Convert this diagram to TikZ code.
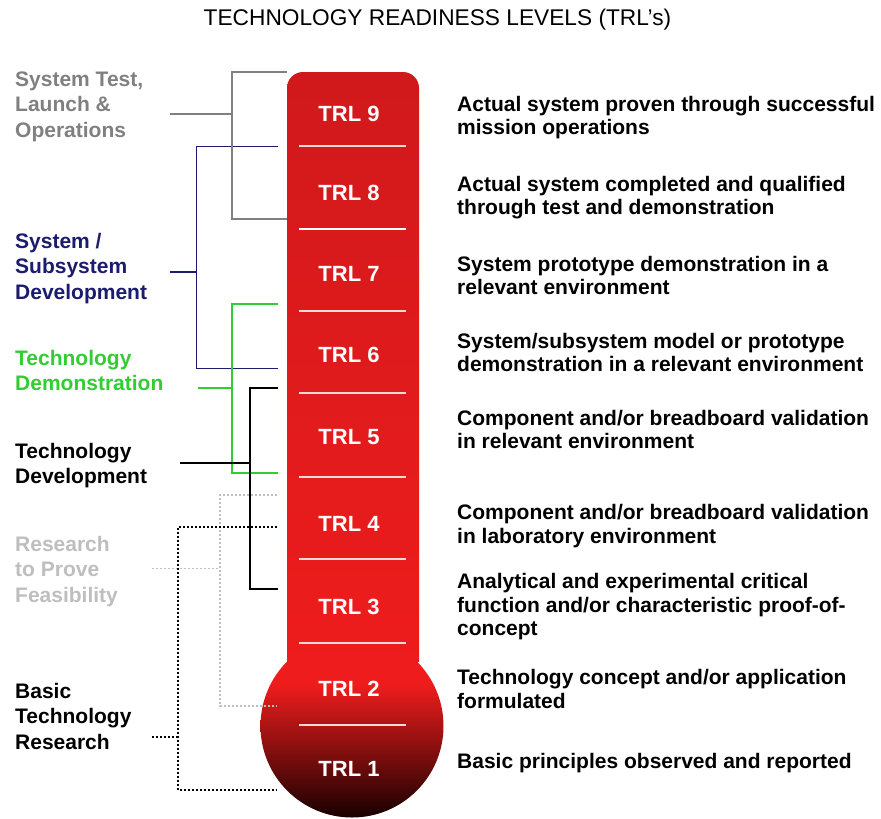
\documentclass[tikz,border=0pt]{standalone}
\usepackage{fontspec}
\setmainfont{Liberation Sans}
\definecolor{tubetop}{HTML}{D0191C}
\definecolor{tubelow}{HTML}{EE1C1C}
\definecolor{bulbdark}{HTML}{160000}
\definecolor{tickpink}{HTML}{F6DADA}
\definecolor{opsgray}{HTML}{808080}
\definecolor{sysnavy}{HTML}{1C1C6E}
\definecolor{demogreen}{HTML}{33CC33}
\definecolor{rpfgray}{HTML}{BEBEBE}
\begin{document}
% Multi-line nodes are placed by the baseline of their last line.
\begin{tikzpicture}[x=1pt,y=-1pt,
  lbl/.style={anchor=base west, inner sep=0pt, align=left,
    font=\fontsize{21}{25.5}\selectfont\bfseries},
  desc/.style={anchor=base west, inner sep=0pt, align=left,
    font=\fontsize{21}{23.5}\selectfont\bfseries},
  trl/.style={anchor=base, inner sep=0pt, text=white,
    font=\fontsize{22}{22}\selectfont\bfseries},
  tick/.style={draw=tickpink, line width=1.2pt},
  solidbr/.style={line width=2pt},
  thinbr/.style={line width=1pt},
  dotbr/.style={line width=1.6pt, dash pattern=on 1.6pt off 2.4pt}
]
\useasboundingbox (0,0) rectangle (881,819);

% title
\node (title) at (437.5,25) [anchor=base, inner sep=0pt,
  font=\fontsize{22.7}{23}\selectfont] {TECHNOLOGY READINESS LEVELS (TRL’s)};

% thermometer bulb: red fading to black
\begin{scope}
  \clip (352,726) circle (91.5);
  \fill[tubelow] (250,630) rectangle (460,686);
  \shade[top color=tubelow, bottom color=bulbdark] (250,685) rectangle (460,819);
\end{scope}
% thermometer tube
\begin{scope}
  \clip (287,662) [rounded corners=16] -- (287,72) -- (419,72) [sharp corners] -- (419,662) -- cycle;
  \shade[top color=tubetop, bottom color=tubelow] (280,70) rectangle (430,662);
\end{scope}

% level dividers
\foreach \y in {146,311,393,477,559,643,725}
  \draw[tick] (299,\y) -- (406,\y);
\draw[white, line width=2.4pt] (299,229) -- (406,229);

% level labels
\node[trl] (t9) at (349,121.7) {TRL 9};
\node[trl] (t8) at (349,200) {TRL 8};
\node[trl] (t7) at (349,281) {TRL 7};
\node[trl] (t6) at (349,362.7) {TRL 6};
\node[trl] (t5) at (349,444) {TRL 5};
\node[trl] (t4) at (349,531) {TRL 4};
\node[trl] (t3) at (349,614) {TRL 3};
\node[trl] (t2) at (349,696.7) {TRL 2};
\node[trl] (t1) at (349,776.7) {TRL 1};

% level descriptions
\node[desc] (d9) at (457,134.5) {Actual system proven through successful\\mission operations};
\node[desc] (d8) at (457,214.5) {Actual system completed and qualified\\through test and demonstration};
\node[desc] (d7) at (457,294.5) {System prototype demonstration in a\\relevant environment};
\node[desc] (d6) at (457,371.7) {System/subsystem model or prototype\\demonstration in a relevant environment};
\node[desc] (d5) at (457,448.5) {Component and/or breadboard validation\\in relevant environment};
\node[desc] (d4) at (457,543.3) {Component and/or breadboard validation\\in laboratory environment};
\node[desc] (d3) at (457,635.7) {Analytical and experimental critical\\function and/or characteristic proof-of-\\concept};
\node[desc] (d2) at (457,708) {Technology concept and/or application\\formulated};
\node[desc] (d1) at (457,768.3) {Basic principles observed and reported};

% phase labels
\node[lbl, text=opsgray] (ops) at (15,137) {System Test,\\Launch \&\\Operations};
\node[lbl, text=sysnavy] (sys) at (15,299) {System /\\Subsystem\\Development};
\node[lbl, text=demogreen] (demo) at (15,390.5) {Technology\\Demonstration};
\node[lbl, text=black] (dev) at (15,483.5) {Technology\\Development};
\node[lbl, text=rpfgray] (rpf) at (15,602) {Research\\to Prove\\Feasibility};
\node[lbl, text=black] (btr) at (15,749) {Basic\\Technology\\Research};

% bracket end points
\coordinate (opsA) at (287,72);   \coordinate (opsB) at (287,219);  \coordinate (opsS) at (170,114);
\coordinate (sysA) at (278,146);  \coordinate (sysB) at (278,368);  \coordinate (sysS) at (170,272);
\coordinate (demoA) at (278,304); \coordinate (demoB) at (278,473); \coordinate (demoS) at (198,388);
\coordinate (devA) at (278,388);  \coordinate (devB) at (278,589);  \coordinate (devS) at (180,463);
\coordinate (rpfA) at (277,495);  \coordinate (rpfB) at (277,706);  \coordinate (rpfS) at (152,568);
\coordinate (btrA) at (277,527);  \coordinate (btrB) at (277,790);  \coordinate (btrS) at (152,737);

% brackets
\draw[sysnavy, thinbr] (sysA) -| (196,368) -- (sysB);
\draw[sysnavy, solidbr] (sysS) -- (196,272);
\draw[opsgray, solidbr] (opsA) -| (232,219) -- (opsB);
\draw[opsgray, solidbr] (opsS) -- (232,114);
\draw[demogreen, solidbr] (demoA) -| (232,473) -- (demoB);
\draw[demogreen, solidbr] (demoS) -- (232,388);
\draw[rpfgray, dotbr] (rpfA) -| (220,706) -- (rpfB);
\draw[rpfgray, line width=1pt, dash pattern=on 1.6pt off 2.4pt] (rpfS) -- (220,568);
\draw[black, dotbr] (btrA) -| (178,790) -- (btrB);
\draw[black, dotbr] (btrS) -- (178,737);
\draw[black, solidbr] (devA) -| (250,589) -- (devB);
\draw[black, solidbr] (devS) -- (250,463);
\end{tikzpicture}
\end{document}
